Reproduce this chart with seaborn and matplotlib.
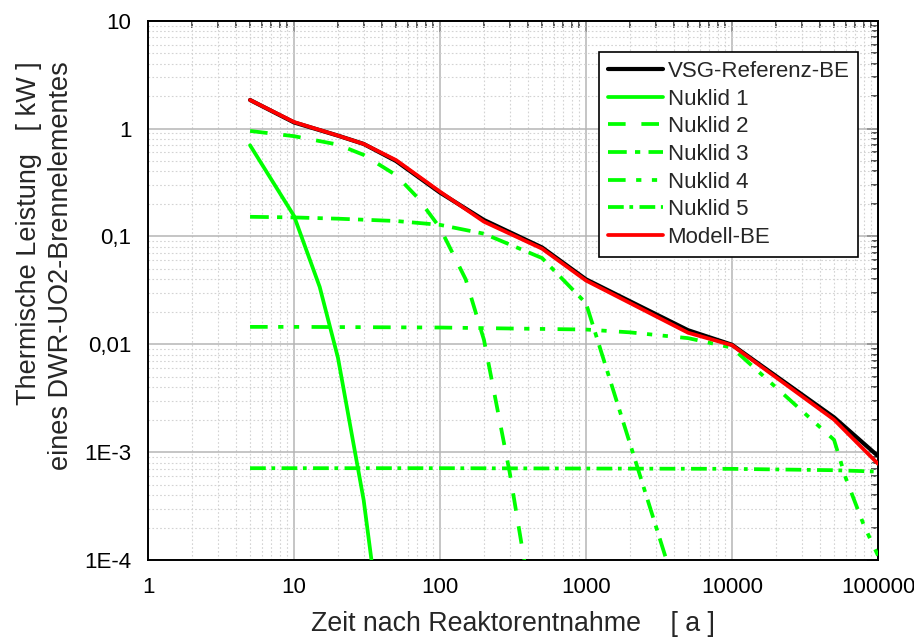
import numpy as np
import pandas as pd
import matplotlib
matplotlib.use("Agg")
import matplotlib.pyplot as plt
import seaborn as sns
from matplotlib.ticker import LogLocator, NullFormatter, FixedLocator

# Zeitpunkte [a] und thermische Leistung [kW] je Kurve
t_ref = [5, 10, 20, 30, 50, 100, 200, 500, 1000, 5000, 10000, 50000, 100000]
p_ref = [1.84, 1.14, 0.86, 0.72, 0.50, 0.255, 0.142, 0.079, 0.040, 0.0135, 0.0099, 0.0021, 0.00092]

t_model = [5, 10, 20, 30, 50, 100, 200, 500, 1000, 5000, 10000, 50000, 100000]
p_model = [1.84, 1.15, 0.86, 0.72, 0.51, 0.26, 0.137, 0.077, 0.039, 0.0128, 0.0098, 0.0020, 0.00078]

t_n1 = [5, 10, 15, 20, 30, 40]
p_n1 = [0.70, 0.155, 0.034, 0.0075, 0.00036, 0.000018]

t_n2 = [5, 10, 20, 30, 50, 70, 100, 150, 200, 300, 500]
p_n2 = [0.95, 0.85, 0.71, 0.57, 0.37, 0.23, 0.12, 0.040, 0.011, 0.00065, 0.00001]

t_n3 = [5, 10, 20, 50, 100, 200, 500, 1000, 5000]
p_n3 = [0.152, 0.150, 0.146, 0.139, 0.128, 0.106, 0.063, 0.024, 0.000023]

t_n4 = [5, 10, 100, 1000, 2000, 5000, 10000, 50000, 60000, 80000, 100000]
p_n4 = [0.0145, 0.0145, 0.0143, 0.0137, 0.0129, 0.0114, 0.0093, 0.0013, 0.00058, 0.00021, 0.00011]

t_n5 = [5, 10, 100, 1000, 10000, 50000, 100000]
p_n5 = [0.00071, 0.00071, 0.00071, 0.000705, 0.00070, 0.00068, 0.00066]

x_ticks = [1, 10, 100, 1000, 10000, 100000]
x_ticklabels = ["1", "10", "100", "1000", "10000", "100000"]
y_ticks = [1e-4, 1e-3, 1e-2, 1e-1, 1, 10]
y_ticklabels = ["1E-4", "1E-3", "0,01", "0,1", "1", "10"]

sns.set_style("white")
plt.rcParams["font.family"] = ["Liberation Sans", "DejaVu Sans"]

fig = plt.figure(figsize=(9.14, 6.44), dpi=100)
ax = fig.add_axes([148 / 914, 1 - 560 / 644, 730 / 914, 539.3 / 644])

GREEN = "#00ff00"
LW = 2.7

series = [
    ("VSG-Referenz-BE", t_ref, p_ref, "black", "-", 3.0),
    ("Nuklid 1", t_n1, p_n1, GREEN, "-", LW),
    ("Nuklid 2", t_n2, p_n2, GREEN, (0, (4.7, 4.2)), LW),
    ("Nuklid 3", t_n3, p_n3, GREEN, (0, (5.0, 2.2, 1.4, 2.2)), LW),
    ("Nuklid 4", t_n4, p_n4, GREEN, (0, (4.7, 2.8, 1.4, 2.8, 1.4, 3.3)), LW),
    ("Nuklid 5", t_n5, p_n5, GREEN, (0, (4.2, 1.5, 1.0, 1.7)), LW),
    ("Modell-BE", t_model, p_model, "#ff0000", "-", LW),
]

for i, (name, t, p, color, ls, lw) in enumerate(series):
    df = pd.DataFrame({"Zeit": t, "Leistung": p})
    sns.lineplot(data=df, x="Zeit", y="Leistung", ax=ax, color=color,
                 linestyle=ls, linewidth=lw, label=name, sort=False,
                 estimator=None, zorder=3 + i)

ax.set_xscale("log")
ax.set_yscale("log")
ax.set_xlim(1, 100000)
ax.set_ylim(1e-4, 10)

ax.xaxis.set_major_locator(FixedLocator(x_ticks))
ax.set_xticklabels(x_ticklabels)
ax.yaxis.set_major_locator(FixedLocator(y_ticks))
ax.set_yticklabels(y_ticklabels)
ax.xaxis.set_minor_locator(LogLocator(base=10, subs=np.arange(2, 10), numticks=30))
ax.yaxis.set_minor_locator(LogLocator(base=10, subs=np.arange(2, 10), numticks=30))
ax.xaxis.set_minor_formatter(NullFormatter())
ax.yaxis.set_minor_formatter(NullFormatter())

ax.grid(which="major", color="#b5b5b5", linewidth=1.1, linestyle="-", zorder=0)
ax.grid(which="minor", color="#d3d3d3", linewidth=0.8, linestyle=(0, (1.5, 2.0)), zorder=0)
ax.set_axisbelow(True)

for s in ax.spines.values():
    s.set_visible(True)
    s.set_color("black")
    s.set_linewidth(1.4)

ax.tick_params(which="major", direction="out", length=8, width=1.3,
               labelsize=16, colors="black", pad=4)
ax.tick_params(which="minor", direction="out", length=5, width=1.1, colors="black")

# Spiegelachsen oben und rechts mit nach innen gerichteten Strichen
top = ax.secondary_xaxis("top")
top.xaxis.set_major_locator(FixedLocator(x_ticks))
top.xaxis.set_minor_locator(LogLocator(base=10, subs=np.arange(2, 10), numticks=30))
top.xaxis.set_major_formatter(NullFormatter())
top.xaxis.set_minor_formatter(NullFormatter())
top.tick_params(which="major", direction="in", length=8, width=1.3)
top.tick_params(which="minor", direction="in", length=5, width=1.1)
top.spines["top"].set_linewidth(1.4)

right = ax.secondary_yaxis("right")
right.yaxis.set_major_locator(FixedLocator(y_ticks))
right.yaxis.set_minor_locator(LogLocator(base=10, subs=np.arange(2, 10), numticks=30))
right.yaxis.set_major_formatter(NullFormatter())
right.yaxis.set_minor_formatter(NullFormatter())
right.tick_params(which="major", direction="in", length=8, width=1.3)
right.tick_params(which="minor", direction="in", length=5, width=1.1)
right.spines["right"].set_linewidth(1.4)

ax.set_xlabel("Zeit nach Reaktorentnahme    [ a ]", fontsize=19.3)
ax.xaxis.set_label_coords(0.5, -0.094)
ax.set_ylabel("Thermische Leistung   [ kW ]\neines DWR-UO2-Brennelementes",
              fontsize=19.5, multialignment="right", linespacing=1.3)
ax.yaxis.set_label_coords(-0.102, 0.545)

leg = ax.legend(loc="upper right", bbox_to_anchor=(0.973, 0.942),
                frameon=True, fancybox=False, edgecolor="black", framealpha=1,
                fontsize=16, handlelength=2.5, handletextpad=0.2,
                labelspacing=0.30, borderpad=0.4, borderaxespad=0)
leg.get_frame().set_linewidth(1.2)
leg.set_zorder(20)

fig.savefig("out.png", dpi=100)
